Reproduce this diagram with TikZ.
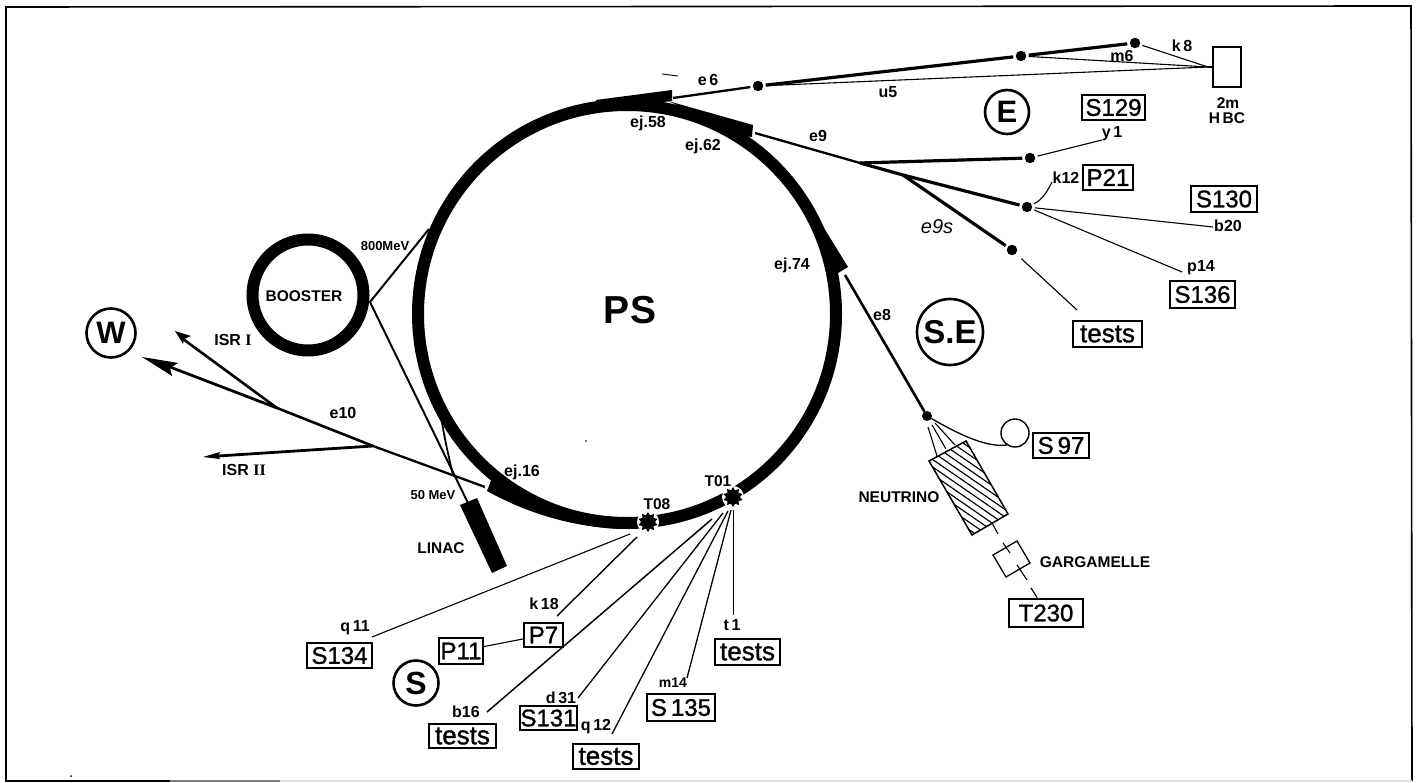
\documentclass[tikz,border=0pt]{standalone}
\usepackage{fontspec}
\setmainfont{Liberation Sans}
\newfontfamily\romanfont{Liberation Serif}
\newfontfamily\boxfont[FakeBold=1.2]{Liberation Sans}
\usetikzlibrary{shapes.geometric}
\newcommand{\fsz}[1]{\fontsize{#1}{#1}\selectfont}
\tikzset{
  lab/.style={inner sep=0,outer sep=0,font=\fsz{16}\bfseries},
  caplab/.style={inner sep=0,outer sep=0,font=\fsz{15.5}\bfseries},
  expbox/.style={draw,line width=1.7,inner sep=0,outer sep=0,font=\fsz{24}\boxfont},
  ring/.style={circle,draw,inner sep=0,outer sep=0},
  zone/.style={circle,draw,inner sep=0,outer sep=0,line width=2.6},
  beamdot/.style={circle,fill=black,inner sep=0,minimum size=10.5,outer sep=2.5},
  targ/.style={star,star points=10,star point ratio=1.45,fill=black,inner sep=0,minimum size=20,outer sep=0},
  thick beam/.style={line width=3.2},
  med beam/.style={line width=2.3},
  thin beam/.style={line width=1.1},
}
\newcommand{\boxat}[6]{\node[expbox,minimum width=#4-#2,minimum height=#5-#3] (#1) at ({(#2+#4)/2},{(#3+#5)/2}) {#6};}
\begin{document}
\begin{tikzpicture}[x=1pt,y=-1pt]
\useasboundingbox (0,0) rectangle (1418,783);
\fill[white] (0,0) rectangle (1418,783);
% frame
\coordinate (f1) at (6,781); \coordinate (f2) at (6,7); \coordinate (f3) at (1411,6);
\coordinate (f4) at (1412,781); \coordinate (f5) at (170,781); \coordinate (f6) at (280,781);
\draw[line width=1.6] (f5) -- (f1) -- (f2) -- (f3) -- (f4);
\draw[gray,line width=1.2] (f5) -- (f6);
\draw[black!12,line width=1.2] (f6) -- (f4);
% PS ring
\node[ring,line width=12,minimum size=418] (ps) at (627,314) {};
\node[inner sep=0,font=\fsz{39}\bfseries] (pslab) at (630,310) {PS};
% wedges
\fill (487,491) .. controls (530,515) and (580,529) .. (630,529) -- (630,522) -- (560,510) -- (492,478) -- cycle;
\fill (596,100) -- (672,90) -- (672,101) -- (640,105) -- (600,107) -- cycle;
\fill (668,101) -- (753,125) -- (752,137) -- (735,135) -- (700,115) -- cycle;
\fill (792,176) -- (848,267) -- (838,273) -- (832,272) -- (825,245) -- (810,210) -- cycle;
% gaps and targets
\fill[white] (648,522) circle (11);
\fill[white] (733,497) circle (11);
\node[targ] (t08) at (648,522) {};
\node[targ] (t01) at (733,497) {};
\node[caplab] (lt08) at (657,504) {T08};
\node[caplab] (lt01) at (718,481) {T01};
% ejection labels
\node[lab] (l58) at (648,123) {ej.58};
\node[lab] (l62) at (703,146) {ej.62};
\node[lab] (l74) at (792,265) {ej.74};
\node[lab] (l16) at (522,472) {ej.16};
% East line e6
\node[beamdot] (d1) at (758,86) {};
\node[beamdot] (d2) at (1021,56) {};
\node[beamdot] (d3) at (1135,43) {};
\coordinate (e6s) at (673,98);
\coordinate (hbc) at (1208,67);
\node[draw,line width=1.4,minimum width=28,minimum height=40,inner sep=0,outer sep=0] (hbcbox) at (1227,67) {};
\draw[med beam] (e6s) -- (d1);
\draw[thick beam] (d1) -- (d2);
\draw[thick beam] (d2) -- (d3);
\draw[thin beam] (d3) -- (hbc);
\draw[thin beam] (d2) -- (hbc);
\draw[thin beam] (d1) -- (hbc);
\draw[thin beam] (hbc) -- (hbcbox);
\node[lab] (le6) at (708,80) {e\,6};
\node[lab] (lk8) at (1182,46) {k\,8};
\node[lab] (lm6) at (1122,56) {m6};
\node[lab] (lu5) at (888,92) {u5};
\node[caplab] (l2m) at (1228,103) {2m};
\node[caplab] (lhbc) at (1227,118) {H\,BC};
% e9
\coordinate (e9s) at (755,133);
\coordinate (e9a) at (860,163);
\coordinate (e9b) at (903,175);
\node[beamdot] (d4) at (1030,158) {};
\node[beamdot] (d5) at (1027,207) {};
\node[beamdot] (d6) at (1012,250) {};
\draw[med beam] (e9s) -- (e9a);
\draw[thick beam] (e9a) -- (d4);
\draw[thick beam,line join=round] (e9a) -- (e9b) -- (d5);
\draw[thick beam] (e9b) -- (d6);
\coordinate (y1e) at (1102,140);
\coordinate (k12e) at (1052,182);
\coordinate (b20e) at (1213,227);
\coordinate (p14e) at (1182,272);
\coordinate (tse) at (1077,310);
\draw[thin beam] (d4) -- (y1e);
\draw[thin beam] (d5) .. controls (1042,200) and (1047,192) .. (k12e);
\draw[thin beam] (d5) -- (b20e);
\draw[thin beam] (d5) -- (p14e);
\draw[thin beam,shorten <=5] (d6) -- (tse);
\node[lab] (le9) at (818,136) {e9};
\node[lab] (ly1) at (1112,134) {y\,1};
\node[lab] (lk12) at (1066,178) {k12};
\node[lab] (lb20) at (1228,226) {b20};
\node[lab] (lp14) at (1201,268) {p14};
\node[inner sep=0,font=\fsz{20}\itshape] (le9s) at (937,227) {e9s};
\node[zone,minimum size=44] (zE) at (1007,112) {\fsz{31}\bfseries E};
\node[zone,minimum size=66] (zSE) at (950,332) {\fsz{33}\bfseries S.E};
\node[zone,minimum size=49] (zW) at (111,333) {\fsz{31}\bfseries W};
\node[zone,minimum size=45] (zS) at (416,683) {\fsz{32}\bfseries S};
\boxat{bS129}{1082}{95}{1145}{120}{S129}
\boxat{bP21}{1083}{165}{1133}{190}{P21}
\boxat{bS130}{1191}{186}{1257}{212}{S130}
\boxat{bS136}{1170}{281}{1235}{308}{S136}
\boxat{bT1}{1073}{321}{1142}{347}{\fsz{26}tests}
% e8 and neutrino
\coordinate (e8s) at (845,275);
\node[beamdot,minimum size=10,outer sep=0] (d7) at (927,416) {};
\draw[med beam,line width=2.6] (e8s) -- (d7);
\node[lab] (le8) at (882,315) {e8};
\node[ring,line width=1.4,minimum size=28] (s97c) at (1015,433) {};
\draw[thin beam,line width=1.3] (d7) .. controls (955,432) and (985,448) .. (1007,445);
\boxat{bS97}{1033}{433}{1089}{458}{S\,97}
\begin{scope}
\clip (929,461) -- (966,441) -- (1008,514) -- (972,535) -- cycle;
\foreach \y in {412,419.5,...,510} {
  \draw[line width=1.15] (920,{\y-6.2}) -- (1020,{\y+62.8});
}
\end{scope}
\draw[line width=1.5,line join=miter] (929,461) -- (966,441) -- (1008,514) -- (972,535) -- cycle;
\coordinate (fa1) at (928,427); \coordinate (fa2) at (937,456);
\coordinate (fb1) at (932,425); \coordinate (fb2) at (946,449);
\coordinate (fc1) at (935,423); \coordinate (fc2) at (955,445);
\draw[thin beam] (fa1) -- (fa2);
\draw[thin beam] (fb1) -- (fb2);
\draw[thin beam] (fc1) -- (fc2);
\coordinate (ax1) at (992,523); \coordinate (ax2) at (998,534);
\coordinate (ax3) at (1003,543); \coordinate (ax4) at (1010,553);
\coordinate (ax5) at (1017,565); \coordinate (ax6) at (1027,580);
\coordinate (ax7) at (1031,588); \coordinate (ax8) at (1038,599);
\draw[thin beam] (ax1) -- (ax2);
\draw[thin beam] (ax3) -- (ax4);
\draw[thin beam] (ax5) -- (ax6);
\draw[thin beam] (ax7) -- (ax8);
\draw[line width=1.3] (993,555) -- (1017,541) -- (1030,563) -- (1006,577) -- cycle;
\boxat{bT230}{1009}{599}{1083}{627}{T230}
\node[caplab] (lneu) at (899,497) {NEUTRINO};
\node[caplab] (lgar) at (1095,562) {GARGAMELLE};
% booster, linac
\node[ring,line width=12,minimum size=111] (booster) at (308,295) {};
\node[caplab] (lboo) at (304,296) {BOOSTER};
\coordinate (bx) at (370,302);
\coordinate (btop) at (429,229);
\coordinate (lin) at (468,503);
\draw[line width=2] (bx) -- (btop);
\draw[line width=2] (bx) -- (lin);
\coordinate (cv1) at (441,416);
\coordinate (cv2) at (453,475);
\draw[line width=1.8] (cv1) .. controls (443,430) and (447,450) .. (cv2);
\fill (460,505) -- (477,498) -- (507,566) -- (492,573) -- cycle;
\node[lab] (l800) at (385,246) {\fsz{13}800MeV};
\node[lab] (l50) at (433,495) {\fsz{13}50 MeV};
\node[caplab] (llin) at (441,548) {LINAC};
% e10
\coordinate (e10s) at (485,487);
\coordinate (e10a) at (373,446);
\coordinate (e10b) at (277,408);
\coordinate (e10w) at (170,367);
\coordinate (e10i) at (183,339);
\coordinate (e10ii) at (218,456);
\draw[med beam] (e10s) -- (e10a);
\draw[med beam,line width=2.6] (e10a) -- (e10b);
\draw[thick beam,line width=2.8] (e10b) -- (e10w);
\draw[thick beam,line width=2.6] (e10b) -- (e10i);
\draw[thick beam,line width=2.8] (e10a) -- (e10ii);
\fill (142,357) -- (178,363) -- (170,368) -- (172,376) -- cycle;
\fill (175,331) -- (191,336) -- (184,339) -- (183,344) -- cycle;
\fill (203,457) -- (220,452) -- (218,456) -- (220,459) -- cycle;
\node[lab] (le10) at (343,413) {e10};
\node[lab] (lisr1) at (233,340) {ISR {\romanfont I}};
\node[lab] (lisr2) at (244,470) {ISR {\romanfont II}};
% South lines
\coordinate (q11a) at (630,534); \coordinate (q11b) at (372,637);
\coordinate (k18a) at (637,537); \coordinate (k18b) at (557,616);
\coordinate (b16a) at (712,519); \coordinate (b16b) at (487,712);
\coordinate (d31a) at (723,513); \coordinate (d31b) at (578,698);
\coordinate (q12a) at (728,511); \coordinate (q12b) at (612,734);
\coordinate (m14a) at (731,510); \coordinate (m14b) at (687,678);
\coordinate (t1a) at (733,510); \coordinate (t1b) at (733,615);
\draw[thin beam] (q11a) -- (q11b);
\draw[line width=1.4] (k18a) -- (k18b);
\draw[line width=1.5] (b16a) -- (b16b);
\draw[line width=1.3] (d31a) -- (d31b);
\draw[line width=1.3] (q12a) -- (q12b);
\draw[line width=1.3] (m14a) -- (m14b);
\draw[line width=1] (t1a) -- (t1b);
\boxat{bP7}{524}{623}{563}{647}{P7}
\boxat{bP11}{439}{638}{483}{664}{P11}
\draw[thin beam] (bP11) -- (bP7);
\boxat{bS134}{307}{643}{372}{668}{S134}
\boxat{bT2}{429}{724}{496}{748}{\fsz{26}tests}
\boxat{bS131}{520}{706}{577}{730}{S131}
\boxat{bT3}{573}{744}{639}{769}{\fsz{26}tests}
\boxat{bS135}{647}{694}{715}{721}{S\,135}
\boxat{bT4}{715}{639}{780}{665}{\fsz{26}tests}
\node[lab] (lq11) at (355,628) {q\,11};
\node[lab] (lk18) at (544,604) {k\,18};
\node[lab] (lb16) at (466,712) {b16};
\node[lab] (ld31) at (561,698) {d\,31};
\node[lab] (lq12) at (596,727) {q\,12};
\node[lab] (lm14) at (673,683) {\fsz{14}m14};
\node[lab] (lt1) at (732,625) {t\,1};
% stray marks of the print
\draw[line width=0.9] (662,74) -- (678,76);
\fill (71,776) circle (1);
\fill (586,441) circle (0.8);
\end{tikzpicture}
\end{document}
